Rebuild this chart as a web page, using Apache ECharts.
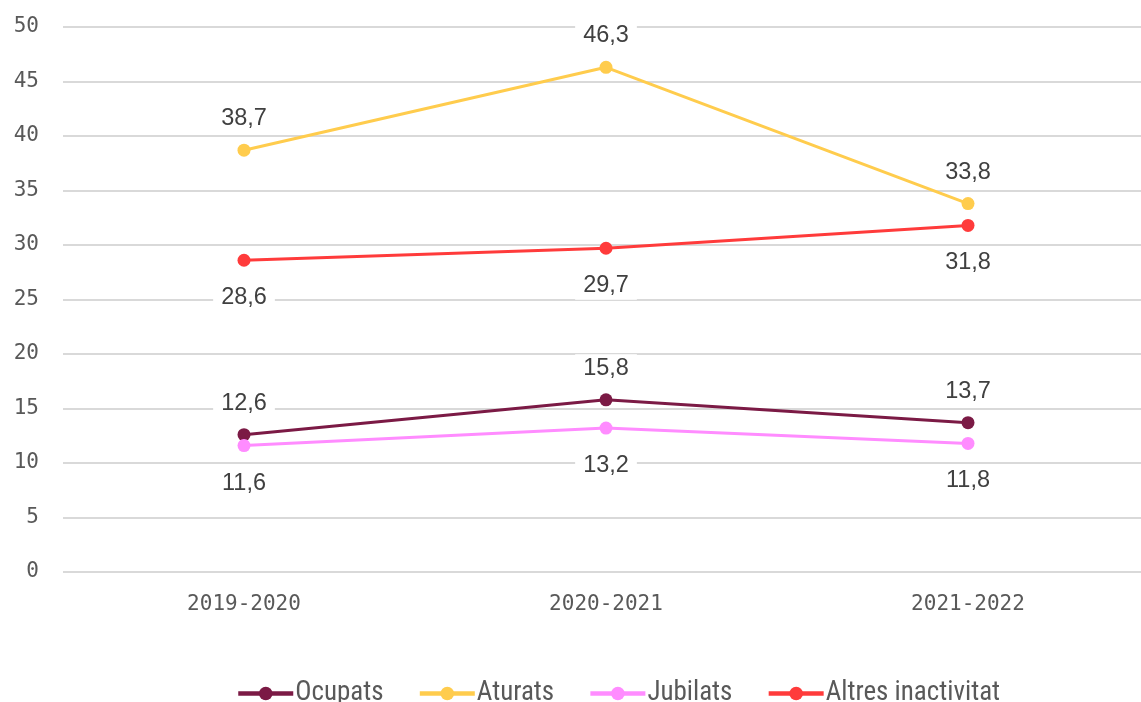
<!DOCTYPE html>
<html><head><meta charset="utf-8">
<script src="https://cdn.jsdelivr.net/npm/echarts@6/dist/echarts.min.js"></script>
<style>html,body{margin:0;padding:0;background:#fff}#c{width:1141px;height:702px}</style>
</head><body><div id="c"></div>
<script>
const categories = ['2019-2020', '2020-2021', '2021-2022'];
const ocupats = [12.6, 15.8, 13.7];
const aturats = [38.7, 46.3, 33.8];
const jubilats = [11.6, 13.2, 11.8];
const altres = [28.6, 29.7, 31.8];
const seriesNames = ['Ocupats', 'Aturats', 'Jubilats', 'Altres inactivitat'];
const colors = ['#7B1A45', '#FFCC4D', '#FF8CFF', '#FF3B3B'];
const positions = ['top', 'top', 'bottom', 'bottom'];
const dataSets = [ocupats, aturats, jubilats, altres];

const chart = echarts.init(document.getElementById('c'));
chart.setOption({
  animation: false,
  grid: {left: 63, right: -8, top: 27, bottom: 130, outerBoundsMode: 'none', containLabel: false},
  legend: {
    bottom: -10, left: 231, itemWidth: 55, itemHeight: 17, itemGap: 34,
    lineStyle: {width: 4.5},
    textStyle: {fontFamily: 'Liberation Sans Narrow, Roboto Condensed, Roboto', fontSize: 27, color: '#595959', padding: [0,0,0,-3]},
    data: seriesNames
  },
  xAxis: {
    type: 'category', data: categories, boundaryGap: true,
    axisLine: {show: false}, axisTick: {show: false},
    axisLabel: {fontFamily: 'DejaVu Sans Mono', fontSize: 21, color: '#595959', margin: 22}
  },
  yAxis: {
    type: 'value', min: 0, max: 50, interval: 5,
    axisLine: {show: false}, axisTick: {show: false},
    splitLine: {lineStyle: {color: '#D9D9D9', width: 2}},
    axisLabel: {fontFamily: 'DejaVu Sans Mono', fontSize: 21, color: '#595959', margin: 24, align: 'right'}
  },
  series: dataSets.map((d, i) => ({
    name: seriesNames[i], type: 'line', data: d,
    color: colors[i], symbol: 'circle', symbolSize: 13,
    lineStyle: {width: 3},
    label: {
      show: true, position: positions[i], distance: positions[i] === 'top' ? 11 : 17,
      formatter: p => String(p.value).replace('.', ','),
      fontFamily: 'Liberation Sans', fontSize: 23.5, color: '#404040',
      backgroundColor: '#fff', padding: [2, 8]
    }
  }))
});
</script></body></html>
